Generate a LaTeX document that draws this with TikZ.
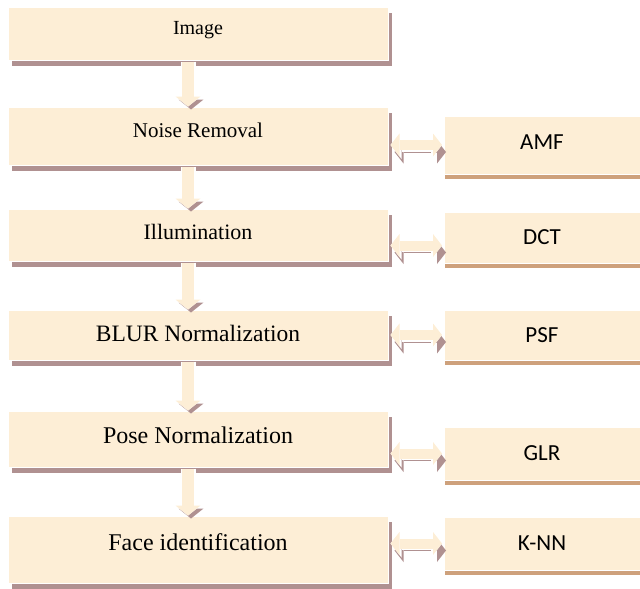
\documentclass[tikz,border=0pt]{standalone}
\usepackage{fontspec}
\setmainfont{Liberation Serif}
\newfontfamily\calibri{Carlito}
\usetikzlibrary{arrows.meta,positioning}
\definecolor{boxfill}{RGB}{253,238,214}
\definecolor{boxshade}{RGB}{176,145,145}
\definecolor{tagline}{RGB}{206,161,124}
\tikzset{
  stage/.style={fill=boxfill,draw=white,line width=1pt,minimum width=380pt,inner sep=0pt,
    preaction={fill=boxshade,transform canvas={shift={(4pt,-6pt)}}}},
  method/.style={fill=boxfill,draw=white,line width=1pt,minimum width=196pt,inner sep=0pt,
    font=\calibri\fontsize{23}{27}\selectfont,
    preaction={fill=tagline,transform canvas={shift={(1pt,-5pt)}}}},
  flow/.style={draw=boxfill,line width=12pt,shorten <=1pt,
    -{Triangle[length=10pt,width=25pt,line width=0pt]},
    preaction={draw=boxshade,transform canvas={shift={(3pt,-3pt)}}},
    preaction={draw=white,line width=15pt,-{Triangle[length=12pt,width=30pt,line width=0pt]}}},
  link/.style={draw=boxfill,line width=10pt,shorten <=2pt,shorten >=1.5pt,
    {Triangle[length=9pt,width=23pt,line width=0pt]}-{Triangle[length=9pt,width=23pt,line width=0pt]},
    preaction={draw=boxshade,transform canvas={shift={(4pt,-7pt)}}},
    preaction={draw=white,line width=13pt,
      {Triangle[length=11pt,width=28pt,line width=0pt]}-{Triangle[length=11pt,width=28pt,line width=0pt]}}}
}
\begin{document}
\begin{tikzpicture}[x=1pt,y=-1pt]
	\useasboundingbox (0,0) rectangle (640,589);
	% steps on the left
	\node[stage,minimum height=53pt,text depth=11pt,font=\fontsize{20}{24}\selectfont] (image) at (198,33.5) {Image};
	\node[stage,minimum height=58pt,text depth=12pt,font=\fontsize{21}{25}\selectfont] (noise) at (198,136) {Noise Removal};
	\node[stage,minimum height=52pt,text depth=6pt,font=\fontsize{22}{26}\selectfont] (illum) at (198,235) {Illumination};
	\node[stage,minimum height=50pt,text depth=4pt,font=\fontsize{23.5}{28}\selectfont] (blur) at (198,335) {BLUR Normalization};
	\node[stage,minimum height=56pt,text depth=8pt,font=\fontsize{24}{28}\selectfont] (pose) at (198,439) {Pose Normalization};
	\node[stage,minimum height=67pt,text depth=14pt,font=\fontsize{24}{28}\selectfont] (face) at (198,549.5) {Face identification};
	% methods on the right
	\node[method,minimum height=58pt,text depth=5pt] (amf) at (542,145) {AMF};
	\node[method,minimum height=51pt] (dct) at (542,237.5) {DCT};
	\node[method,minimum height=50pt] (psf) at (542,335) {PSF};
	\node[method,minimum height=53pt] (glr) at (542,453.5) {GLR};
	\node[method,minimum height=53pt] (knn) at (542,543.5) {K-NN};
	% arrows down
	\draw[flow] ([xshift=-10pt]image.south) -- ([xshift=-10pt]noise.north);
	\draw[flow] ([xshift=-10pt]noise.south) -- ([xshift=-10pt]illum.north);
	\draw[flow] ([xshift=-10pt]illum.south) -- ([xshift=-10pt]blur.north);
	\draw[flow] ([xshift=-10pt]blur.south) -- ([xshift=-10pt]pose.north);
	\draw[flow] ([xshift=-10pt]pose.south) -- ([xshift=-10pt]face.north);
	% arrows both ways
	\draw[link] (noise.east |- amf.west) -- (amf.west);
	\draw[link] ([yshift=-8pt]illum.east |- dct.west) -- ([yshift=-8pt]dct.west);
	\draw[link] (blur.east |- psf.west) -- (psf.west);
	\draw[link] (pose.east |- glr.west) -- (glr.west);
	\draw[link] (face.east |- knn.west) -- (knn.west);
\end{tikzpicture}
\end{document}
